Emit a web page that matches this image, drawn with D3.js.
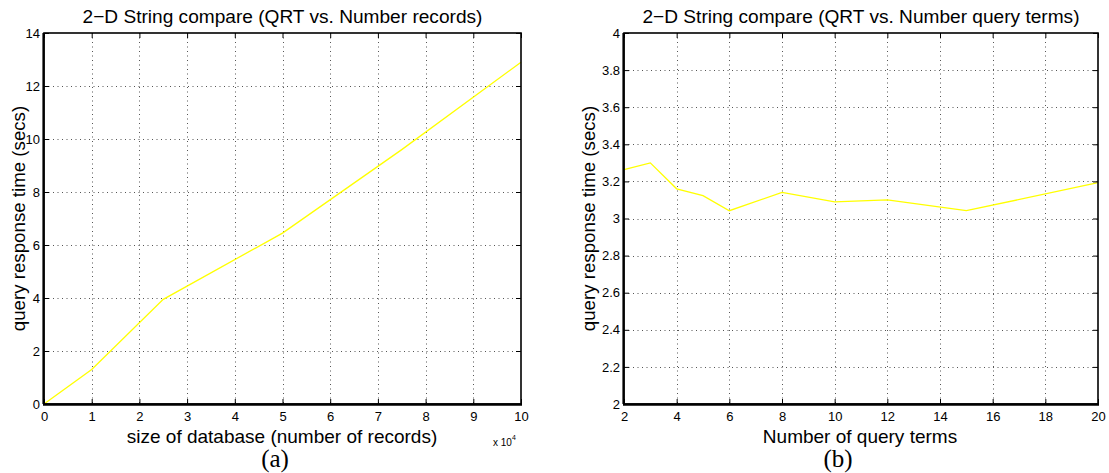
<!DOCTYPE html>
<html>
<head>
<meta charset="utf-8">
<script src="https://cdn.jsdelivr.net/npm/d3@7"></script>
<style>
  html, body { margin: 0; padding: 0; background: #fff; }
  svg { display: block; }
  text { font-family: "Liberation Sans", Arial, Helvetica, sans-serif; fill: #000; }
  text.caption { font-family: "Liberation Serif", "DejaVu Serif", serif; }
</style>
</head>
<body>
<svg id="fig" width="1109" height="473"></svg>
<script>
// (a) query response time vs. database size (x in units of 10^4 records)
const recordsX = [0, 1, 2.5, 5, 7.5, 10];
const recordsQRT = [0, 1.3, 3.95, 6.45, 9.6, 12.9];
const recordsXTicks = [0, 1, 2, 3, 4, 5, 6, 7, 8, 9, 10];
const recordsYTicks = [0, 2, 4, 6, 8, 10, 12, 14];

// (b) query response time vs. number of query terms
const termsX = [2, 3, 4, 5, 6, 8, 10, 12, 15, 20];
const termsQRT = [3.263, 3.30, 3.16, 3.123, 3.042, 3.141, 3.09, 3.10, 3.042, 3.193];
const termsXTicks = [2, 4, 6, 8, 10, 12, 14, 16, 18, 20];
const termsYTicks = [2, 2.2, 2.4, 2.6, 2.8, 3, 3.2, 3.4, 3.6, 3.8, 4];

const svg = d3.select("#fig");

function panel(cfg) {
  const x = d3.scaleLinear().domain(cfg.xDomain).range([cfg.left, cfg.right]);
  const y = d3.scaleLinear().domain(cfg.yDomain).range([cfg.bottom, cfg.top]);
  const g = svg.append("g");
  const tickLen = 5;

  // dotted grid
  const grid = g.append("g").attr("stroke", "#555").attr("stroke-width", 1)
    .attr("stroke-dasharray", "1,3.5").attr("fill", "none");
  cfg.xTicks.slice(1, -1).forEach(t => {
    grid.append("line").attr("x1", Math.round(x(t)) + 0.5).attr("x2", Math.round(x(t)) + 0.5)
      .attr("y1", cfg.top).attr("y2", cfg.bottom);
  });
  cfg.yTicks.slice(1, -1).forEach(t => {
    grid.append("line").attr("y1", Math.round(y(t)) + 0.5).attr("y2", Math.round(y(t)) + 0.5)
      .attr("x1", cfg.left).attr("x2", cfg.right);
  });

  // data line
  const line = d3.line().x((d, i) => x(cfg.xs[i])).y(d => y(d));
  g.append("path").datum(cfg.ys).attr("d", line)
    .attr("fill", "none").attr("stroke", "#ffff00").attr("stroke-width", 1.3);

  // axes with inward ticks on all four sides
  const bottomAxis = d3.axisBottom(x).tickValues(cfg.xTicks).tickSize(-tickLen).tickPadding(8)
    .tickFormat(cfg.xFormat);
  const topAxis = d3.axisTop(x).tickValues(cfg.xTicks).tickSize(-tickLen).tickFormat("");
  const leftAxis = d3.axisLeft(y).tickValues(cfg.yTicks).tickSize(-tickLen).tickPadding(4)
    .tickFormat(cfg.yFormat);
  const rightAxis = d3.axisRight(y).tickValues(cfg.yTicks).tickSize(-tickLen).tickFormat("");

  const axes = [
    [bottomAxis, `translate(0,${cfg.bottom})`],
    [topAxis, `translate(0,${cfg.top})`],
    [leftAxis, `translate(${cfg.left},0)`],
    [rightAxis, `translate(${cfg.right},0)`]
  ];
  axes.forEach(([ax, tr]) => {
    const a = g.append("g").attr("transform", tr).call(ax);
    a.select(".domain").remove();
    a.selectAll(".tick line").attr("stroke", "#000").attr("stroke-width", 1);
    a.selectAll(".tick text").attr("font-size", 13).attr("fill", "#000");
  });

  // frame
  g.append("rect").attr("x", cfg.left).attr("y", cfg.top)
    .attr("width", cfg.right - cfg.left).attr("height", cfg.bottom - cfg.top)
    .attr("fill", "none").attr("stroke", "#000").attr("stroke-width", 1.6);
  g.append("line").attr("x1", cfg.left - 1).attr("x2", cfg.right + 1)
    .attr("y1", cfg.bottom + 0.5).attr("y2", cfg.bottom + 0.5)
    .attr("stroke", "#000").attr("stroke-width", 2.6);
  g.append("line").attr("x1", cfg.left - 0.5).attr("x2", cfg.left - 0.5)
    .attr("y1", cfg.top).attr("y2", cfg.bottom)
    .attr("stroke", "#000").attr("stroke-width", 2.2);

  // titles and labels
  const cx = (cfg.left + cfg.right) / 2;
  g.append("text").attr("x", cx).attr("y", 23).attr("text-anchor", "middle")
    .attr("font-size", 19.1).text(cfg.title);
  g.append("text").attr("x", cfg.xLabelX).attr("y", 443).attr("text-anchor", "middle")
    .attr("font-size", 19).text(cfg.xLabel);
  g.append("text").attr("transform", `translate(${cfg.yLabelX},${(cfg.top + cfg.bottom) / 2}) rotate(-90)`)
    .attr("text-anchor", "middle").attr("font-size", 18.7).text(cfg.yLabel);
  g.append("text").attr("class", "caption").attr("x", cfg.capX).attr("y", 467)
    .attr("text-anchor", "middle").attr("font-size", 25).text(cfg.caption);
  return { x, y, g };
}

const a = panel({
  left: 44, right: 521, top: 33, bottom: 404,
  xDomain: [0, 10], yDomain: [0, 14],
  xTicks: recordsXTicks, yTicks: recordsYTicks,
  xFormat: d3.format("d"), yFormat: d3.format("d"),
  xs: recordsX, ys: recordsQRT,
  title: "2\u2212D String compare (QRT vs. Number records)",
  xLabel: "size of database (number of records)", xLabelX: 282,
  yLabel: "query response time (secs)", yLabelX: 25,
  caption: "(a)", capX: 275
});

// exponent marker for the x axis of (a)
const expo = a.g.append("text").attr("x", 493).attr("y", 446).attr("font-size", 10);
expo.append("tspan").text("x 10");
expo.append("tspan").attr("dy", -6).attr("font-size", 7).text("4");

panel({
  left: 624, right: 1098, top: 33, bottom: 404,
  xDomain: [2, 20], yDomain: [2, 4],
  xTicks: termsXTicks, yTicks: termsYTicks,
  xFormat: d3.format("d"), yFormat: d => d3.format("~g")(d),
  xs: termsX, ys: termsQRT,
  title: "2\u2212D String compare (QRT vs. Number query terms)",
  xLabel: "Number of query terms", xLabelX: 860,
  yLabel: "query response time (secs)", yLabelX: 595,
  caption: "(b)", capX: 838
});
</script>
</body>
</html>
